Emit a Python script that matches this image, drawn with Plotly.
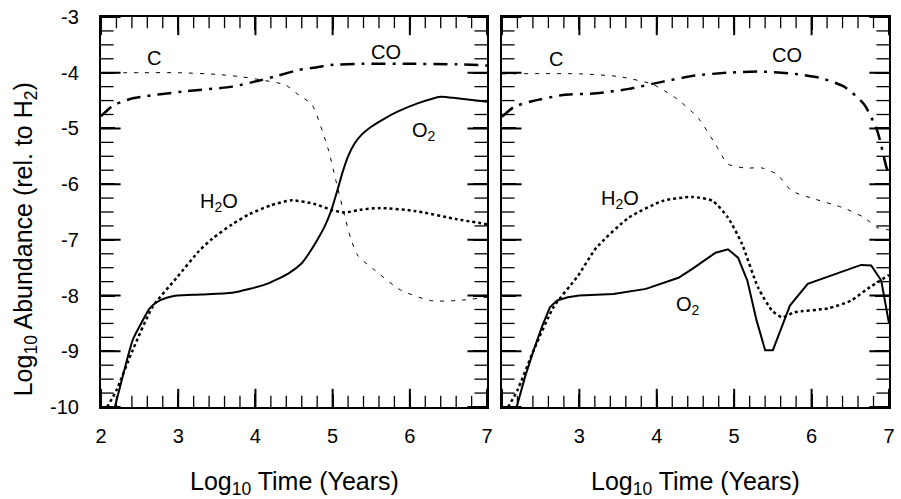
import numpy as np
import plotly.graph_objects as go

# ---------------- data (log10 time, log10 abundance) ----------------
# Left panel
c_left_x = [2.0, 2.5, 3.0, 3.5, 3.8, 4.08, 4.39, 4.56, 4.73, 4.94, 5.05, 5.16, 5.24, 5.33, 5.55, 5.88, 6.27, 6.61, 7.0]
c_left_y = [-4.0, -4.0, -4.0, -4.03, -4.07, -4.13, -4.22, -4.4, -4.57, -5.36, -5.98, -6.6, -7.0, -7.29, -7.55, -7.9, -8.09, -8.09, -8.03]

co_left_x = [2.0, 2.1, 2.2, 2.41, 3.05, 3.7, 4.08, 4.3, 4.56, 4.8, 4.98, 5.4, 6.0, 6.61, 7.0]
co_left_y = [-4.78, -4.65, -4.56, -4.46, -4.34, -4.25, -4.13, -4.05, -3.95, -3.9, -3.86, -3.84, -3.84, -3.85, -3.87]

o2_left_x = [2.18, 2.3, 2.41, 2.52, 2.63, 2.72, 2.85, 2.98, 3.3, 3.7, 4.13, 4.43, 4.6, 4.69, 4.81, 4.9, 4.98, 5.07, 5.13, 5.2, 5.28, 5.37, 5.5, 5.65, 5.84, 6.1, 6.4, 6.61, 7.0]
o2_left_y = [-10.0, -9.35, -8.8, -8.5, -8.23, -8.12, -8.04, -8.0, -7.98, -7.95, -7.8, -7.6, -7.42, -7.25, -6.98, -6.75, -6.48, -6.07, -5.78, -5.5, -5.28, -5.12, -4.97, -4.84, -4.7, -4.55, -4.43, -4.46, -4.52]

h2o_left_x = [2.08, 2.2, 2.41, 2.67, 2.98, 3.27, 3.44, 3.7, 3.92, 4.2, 4.47, 4.78, 5.0, 5.16, 5.35, 5.62, 6.06, 6.61, 7.0]
h2o_left_y = [-10.0, -9.7, -8.98, -8.2, -7.68, -7.2, -6.98, -6.72, -6.54, -6.38, -6.29, -6.36, -6.47, -6.51, -6.46, -6.43, -6.48, -6.63, -6.72]

# Right panel
c_right_x = [2.0, 3.0, 3.51, 3.95, 4.28, 4.54, 4.76, 4.92, 5.14, 5.36, 5.56, 5.74, 6.0, 6.42, 6.68, 6.85, 7.0]
c_right_y = [-4.02, -4.02, -4.07, -4.21, -4.49, -4.82, -5.29, -5.64, -5.71, -5.71, -5.83, -6.12, -6.25, -6.43, -6.6, -6.78, -6.82]

co_right_x = [2.0, 2.15, 2.36, 2.79, 3.22, 3.64, 4.08, 4.5, 4.92, 5.36, 5.78, 6.13, 6.42, 6.68, 6.85, 6.97, 7.0]
co_right_y = [-4.79, -4.62, -4.52, -4.4, -4.37, -4.29, -4.16, -4.05, -4.0, -3.98, -4.02, -4.1, -4.25, -4.57, -5.05, -5.71, -5.8]

o2_right_x = [2.19, 2.3, 2.41, 2.52, 2.62, 2.71, 2.85, 3.0, 3.44, 3.86, 4.28, 4.46, 4.76, 4.92, 5.05, 5.17, 5.29, 5.4, 5.5, 5.72, 5.95, 6.13, 6.42, 6.64, 6.77, 6.9, 7.0]
o2_right_y = [-10.0, -9.45, -8.98, -8.55, -8.21, -8.09, -8.03, -8.0, -7.97, -7.88, -7.68, -7.52, -7.23, -7.17, -7.32, -7.73, -8.45, -8.98, -8.98, -8.18, -7.79, -7.7, -7.55, -7.45, -7.46, -7.73, -8.5]

h2o_right_x = [2.08, 2.2, 2.41, 2.67, 2.98, 3.22, 3.64, 4.08, 4.46, 4.72, 4.92, 5.1, 5.31, 5.49, 5.62, 5.78, 6.21, 6.51, 6.72, 7.0]
h2o_right_y = [-10.0, -9.7, -8.98, -8.2, -7.65, -7.14, -6.6, -6.3, -6.23, -6.3, -6.6, -7.07, -7.86, -8.27, -8.39, -8.3, -8.23, -8.09, -7.88, -7.63]

x_range = [2, 7]
y_range = [-10, -3]
x_major_step, x_minor_step = 1.0, 0.2
y_major_step, y_minor_step = 1.0, 0.25
y_label_alias = {"\u2212%d" % k: "-%d" % k for k in range(3, 11)}

# ---------------- figure ----------------
FONT = "Liberation Sans, Arial, sans-serif"
fig = go.Figure()

def add_panel(xa, ya, cx, cy, cox, coy, o2x, o2y, hx, hy, o2_shape):
    fig.add_trace(go.Scatter(x=cx, y=cy, mode="lines", xaxis=xa, yaxis=ya,
                             line=dict(color="black", width=1, dash="4px,7px", shape="spline", smoothing=0.6)))
    fig.add_trace(go.Scatter(x=cox, y=coy, mode="lines", xaxis=xa, yaxis=ya,
                             line=dict(color="black", width=2.5, dash="14px,7px,3px,7px", shape="spline", smoothing=0.6)))
    fig.add_trace(go.Scatter(x=o2x, y=o2y, mode="lines", xaxis=xa, yaxis=ya,
                             line=dict(color="black", width=2, shape=o2_shape, smoothing=0.6)))
    fig.add_trace(go.Scatter(x=hx, y=hy, mode="lines", xaxis=xa, yaxis=ya,
                             line=dict(color="black", width=2.5, dash="dot", shape="spline", smoothing=0.6)))

def add_tick_marks(xa, ya):
    # inward tick marks on all four sides, drawn as clipped line markers on the frame
    def ticks_at(vals, fixed, horizontal, size, width):
        for f in fixed:
            if horizontal:
                xs, ys, sym = list(vals), [f] * len(vals), "line-ns"
            else:
                xs, ys, sym = [f] * len(vals), list(vals), "line-ew"
            fig.add_trace(go.Scatter(x=xs, y=ys, mode="markers", xaxis=xa, yaxis=ya, cliponaxis=True,
                                     hoverinfo="skip",
                                     marker=dict(symbol=sym, size=size, color="black",
                                                 line=dict(color="black", width=width))))
    xmaj = np.arange(x_range[0], x_range[1] + 1e-9, x_major_step)
    xmin = np.arange(x_range[0], x_range[1] + 1e-9, x_minor_step)
    ymaj = np.arange(y_range[0], y_range[1] + 1e-9, y_major_step)
    ymin = np.arange(y_range[0], y_range[1] + 1e-9, y_minor_step)
    ticks_at(xmin, y_range, True, 16, 1.3)
    ticks_at(xmaj, y_range, True, 26, 2)
    ticks_at(ymin, x_range, False, 18, 1.3)
    ticks_at(ymaj, x_range, False, 28, 2)

add_panel("x", "y", c_left_x, c_left_y, co_left_x, co_left_y, o2_left_x, o2_left_y, h2o_left_x, h2o_left_y, "spline")
add_panel("x2", "y2", c_right_x, c_right_y, co_right_x, co_right_y, o2_right_x, o2_right_y, h2o_right_x, h2o_right_y, "linear")
add_tick_marks("x", "y")
add_tick_marks("x2", "y2")

W, H = 901, 499
ml, mr, mt, mb = 101, 6, 15, 92
pw = W - ml - mr
d1 = (490 - ml) / pw
d2 = (505 - ml) / pw

xcommon = dict(range=x_range, tickmode="linear", tick0=2, dtick=1, ticks="inside", ticklen=13,
               tickwidth=2, tickcolor="#000000", showline=True, linewidth=2.2, linecolor="black",
               mirror="ticks", showgrid=False, zeroline=False, ticklabelstandoff=10,
               tickfont=dict(family=FONT, size=20, color="black"))
ycommon = dict(range=y_range, tickmode="linear", tick0=-10, dtick=1, ticks="inside", ticklen=14,
               tickwidth=2, tickcolor="#000000", showline=True, linewidth=2.2, linecolor="black",
               mirror="ticks", showgrid=False, zeroline=False, ticklabelstandoff=16,
               tickfont=dict(family=FONT, size=20, color="black"))

fig.update_layout(
    width=W, height=H, margin=dict(l=ml, r=mr, t=mt, b=mb),
    paper_bgcolor="white", plot_bgcolor="white", showlegend=False,
    xaxis=dict(xcommon, domain=[0, d1], anchor="y"),
    yaxis=dict(ycommon, domain=[0, 1], anchor="x", labelalias=y_label_alias),
    xaxis2=dict(xcommon, domain=[d2, 1], anchor="y2", labelalias={"2": " "}),
    yaxis2=dict(ycommon, domain=[0, 1], showticklabels=False, anchor="x2"),
)

lab = dict(family=FONT, size=20, color="black")
ann = [
    dict(x=2.69, y=-3.73, xref="x", yref="y", text="C"),
    dict(x=5.69, y=-3.62, xref="x", yref="y", text="CO"),
    dict(x=6.18, y=-5.05, xref="x", yref="y", text="O<sub>2</sub>"),
    dict(x=3.53, y=-6.33, xref="x", yref="y", text="H<sub>2</sub>O"),
    dict(x=2.7, y=-3.75, xref="x2", yref="y2", text="C"),
    dict(x=5.68, y=-3.68, xref="x2", yref="y2", text="CO"),
    dict(x=3.53, y=-6.28, xref="x2", yref="y2", text="H<sub>2</sub>O"),
    dict(x=4.4, y=-8.17, xref="x2", yref="y2", text="O<sub>2</sub>"),
]
for a in ann:
    fig.add_annotation(a, showarrow=False, font=lab)

title_font = dict(family=FONT, size=25, color="black")
fig.add_annotation(x=0.5, y=-0.148, xref="x domain", yref="paper", yanchor="top",
                   text="Log<sub>10</sub> Time (Years)", showarrow=False, font=title_font)
fig.add_annotation(x=0.5, y=-0.148, xref="x2 domain", yref="paper", yanchor="top",
                   text="Log<sub>10</sub> Time (Years)", showarrow=False, font=title_font)
fig.add_annotation(x=0, y=0.43, xref="paper", yref="paper", xanchor="center", yanchor="middle",
                   xshift=-76, text="Log<sub>10</sub> Abundance (rel. to H<sub>2</sub>)", textangle=-90,
                   showarrow=False, font=title_font)

fig.write_html("out.html")
